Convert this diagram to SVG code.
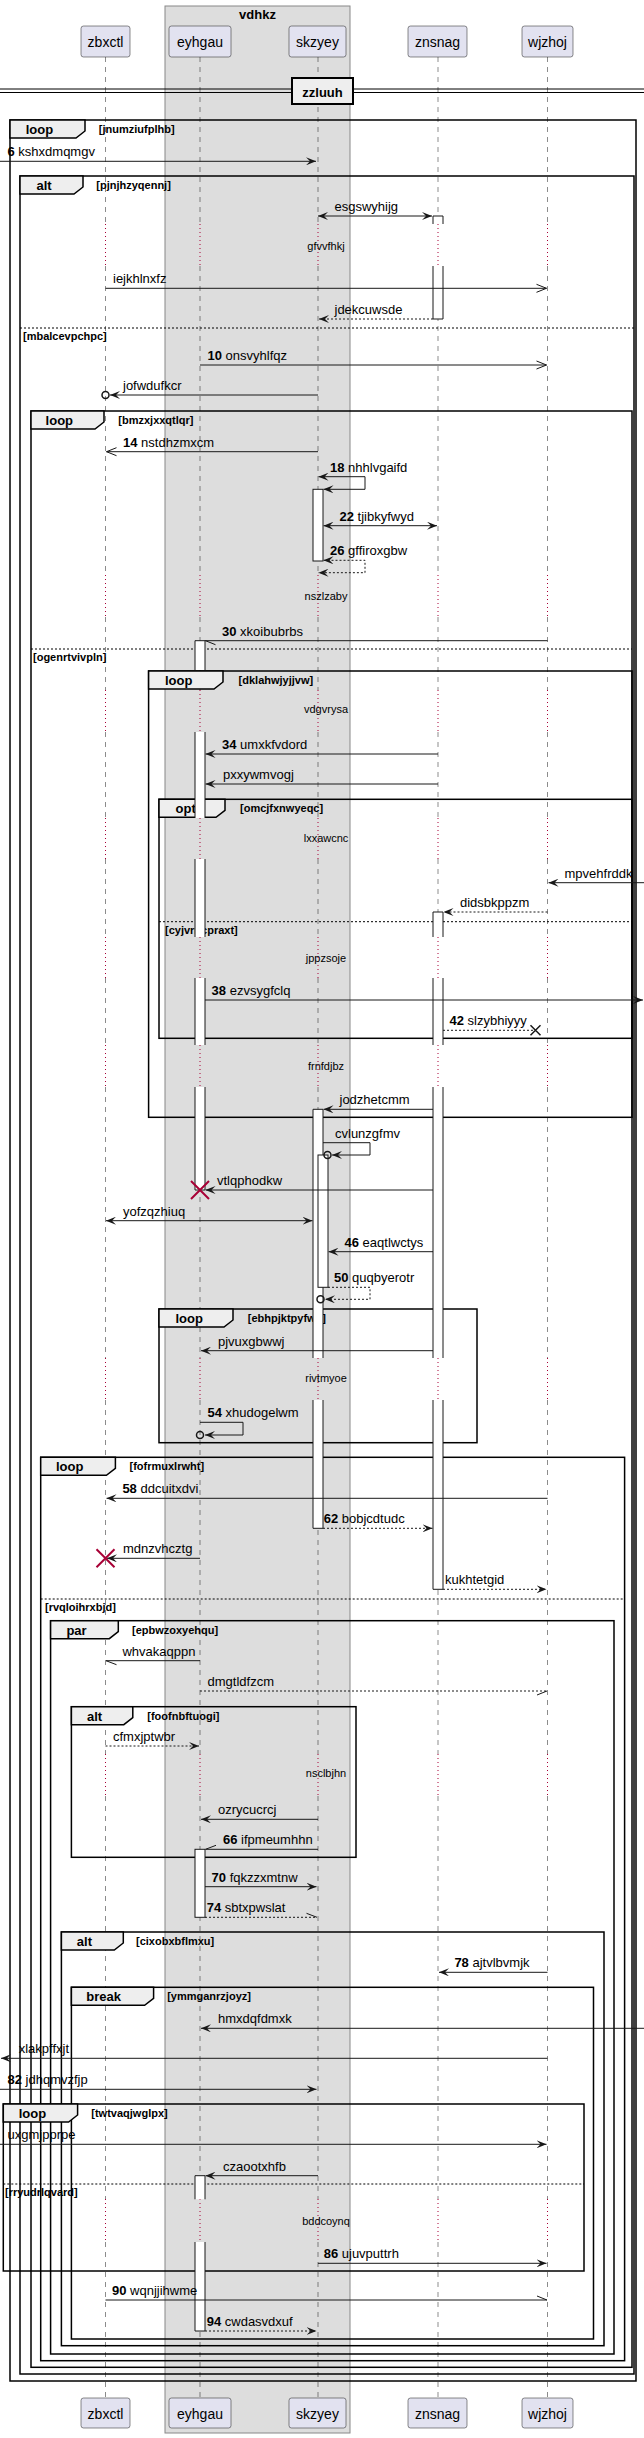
<svg xmlns="http://www.w3.org/2000/svg" width="644" height="2438" viewBox="0 0 644 2438">
<style>
text{font-family:"Liberation Sans",Arial,sans-serif;fill:#000}
.pt{font-size:14px;text-anchor:middle}
.m{font-size:13px}
.b{font-weight:bold}
.dl{font-size:11px;text-anchor:middle}
.fl{font-size:13px;font-weight:bold}
.fc{font-size:11px;font-weight:bold}
.pb{fill:#E2E2F0;stroke:#181818;stroke-width:0.5}
.ll{fill:none;stroke:#181818;stroke-width:0.5;stroke-dasharray:5,5}
.dt{fill:none;stroke:#A80036;stroke-width:1;stroke-dasharray:1,3}
.fr{fill:none;stroke:#000;stroke-width:1.5}
.tab{fill:#EEEEEE;stroke:#000;stroke-width:1.5}
.sep{fill:none;stroke:#000;stroke-width:1;stroke-dasharray:2,2}
.af{fill:#fff;stroke:none}
.ao{fill:none;stroke:#181818;stroke-width:1}
.ms{fill:none;stroke:#181818;stroke-width:1}
.md{fill:none;stroke:#181818;stroke-width:1;stroke-dasharray:2,2}
.fa{marker-end:url(#af)}
.oa{marker-end:url(#ao)}
.ba{marker-start:url(#af);marker-end:url(#af)}
.rx{stroke:#A80036;stroke-width:2}
</style>
<defs>
<marker id="af" viewBox="0 0 10 8" refX="10" refY="4" markerWidth="10" markerHeight="8" markerUnits="userSpaceOnUse" orient="auto-start-reverse"><path d="M0,0 L10,4 L0,8 L4,4 Z" fill="#181818"/></marker>
<marker id="ao" viewBox="-1 -1 12 10" refX="10" refY="4" markerWidth="12" markerHeight="10" markerUnits="userSpaceOnUse" orient="auto-start-reverse"><path d="M0,0 L10,4 L0,8" fill="none" stroke="#181818" stroke-width="1"/></marker>
</defs>

<g id="box-vdhkz">
<rect x="165" y="6" width="185" height="2427" fill="#DDDDDD" stroke="#888888" stroke-width="1"/>
<text x="257.5" y="18.5" class="fl" text-anchor="middle">vdhkz</text>
</g>

<g id="lifelines">
<path class="ll" d="M105.5,57V224M105.5,266V575M105.5,617V690M105.5,732V818M105.5,859V937M105.5,978V1045M105.5,1087V1358M105.5,1400V1754M105.5,1796V2199M105.5,2242V2398"/>
<path class="ll" d="M200,57V224M200,266V575M200,617V690M200,732V818M200,859V937M200,978V1045M200,1087V1358M200,1400V1754M200,1796V2199M200,2242V2398"/>
<path class="ll" d="M318,57V224M318,266V575M318,617V690M318,732V818M318,859V937M318,978V1045M318,1087V1358M318,1400V1754M318,1796V2199M318,2242V2398"/>
<path class="ll" d="M438,57V224M438,266V575M438,617V690M438,732V818M438,859V937M438,978V1045M438,1087V1358M438,1400V1754M438,1796V2199M438,2242V2398"/>
<path class="ll" d="M547.5,57V224M547.5,266V575M547.5,617V690M547.5,732V818M547.5,859V937M547.5,978V1045M547.5,1087V1358M547.5,1400V1754M547.5,1796V2199M547.5,2242V2398"/>
<path class="dt" d="M105.5,224V266M105.5,575V617M105.5,690V732M105.5,818V859M105.5,937V978M105.5,1045V1087M105.5,1358V1400M105.5,1754V1796M105.5,2199V2242"/>
<path class="dt" d="M200,224V266M200,575V617M200,690V732M200,818V859M200,937V978M200,1045V1087M200,1358V1400M200,1754V1796M200,2199V2242"/>
<path class="dt" d="M318,224V266M318,575V617M318,690V732M318,818V859M318,937V978M318,1045V1087M318,1358V1400M318,1754V1796M318,2199V2242"/>
<path class="dt" d="M438,224V266M438,575V617M438,690V732M438,818V859M438,937V978M438,1045V1087M438,1358V1400M438,1754V1796M438,2199V2242"/>
<path class="dt" d="M547.5,224V266M547.5,575V617M547.5,690V732M547.5,818V859M547.5,937V978M547.5,1045V1087M547.5,1358V1400M547.5,1754V1796M547.5,2199V2242"/>
</g>

<g id="p-zbxctl">
<rect class="pb" x="81" y="26" width="49" height="31" rx="2.5"/><text class="pt" x="105.5" y="47">zbxctl</text>
<rect class="pb" x="81" y="2398" width="49" height="30" rx="2.5"/><text class="pt" x="105.5" y="2419">zbxctl</text>
</g>
<g id="p-eyhgau">
<rect class="pb" x="169" y="26" width="62" height="31" rx="2.5"/><text class="pt" x="200" y="47">eyhgau</text>
<rect class="pb" x="169" y="2398" width="62" height="30" rx="2.5"/><text class="pt" x="200" y="2419">eyhgau</text>
</g>
<g id="p-skzyey">
<rect class="pb" x="289" y="26" width="57" height="31" rx="2.5"/><text class="pt" x="317.5" y="47">skzyey</text>
<rect class="pb" x="289" y="2398" width="57" height="30" rx="2.5"/><text class="pt" x="317.5" y="2419">skzyey</text>
</g>
<g id="p-znsnag">
<rect class="pb" x="408" y="26" width="59" height="31" rx="2.5"/><text class="pt" x="437.5" y="47">znsnag</text>
<rect class="pb" x="408" y="2398" width="59" height="30" rx="2.5"/><text class="pt" x="437.5" y="2419">znsnag</text>
</g>
<g id="p-wjzhoj">
<rect class="pb" x="522" y="26" width="51" height="31" rx="2.5"/><text class="pt" x="547.5" y="47">wjzhoj</text>
<rect class="pb" x="522" y="2398" width="51" height="30" rx="2.5"/><text class="pt" x="547.5" y="2419">wjzhoj</text>
</g>

<g id="divider-zzluuh">
<line x1="0" y1="89" x2="644" y2="89" stroke="#000" stroke-width="1"/>
<line x1="0" y1="92.5" x2="644" y2="92.5" stroke="#000" stroke-width="1"/>
<rect x="292" y="78" width="61" height="26" fill="#EEEEEE" stroke="#000" stroke-width="2"/>
<text x="322.5" y="96.5" class="fl" text-anchor="middle">zzluuh</text>
</g>

<g id="frames">
<rect class="fr" x="10" y="120" width="626" height="2261"/>
<path class="tab" d="M10,120H85V131L76,138H10Z"/><text class="fl" x="25.7" y="134">loop</text><text class="fc" x="98.8" y="133">[jnumziufplhb]</text>

<rect class="fr" x="20" y="176" width="614" height="2198"/>
<path class="tab" d="M20,176H83V187L74,194H20Z"/><text class="fl" x="36.5" y="190">alt</text><text class="fc" x="96.3" y="189">[pjnjhzyqennj]</text>
<line class="sep" x1="20" y1="328" x2="634" y2="328"/><text class="fc" x="23" y="340">[mbalcevpchpc]</text>

<rect class="fr" x="31" y="411" width="601" height="1956.3"/>
<path class="tab" d="M31,411H104V422L95,429H31Z"/><text class="fl" x="45.6" y="425">loop</text><text class="fc" x="118.3" y="424">[bmzxjxxqtlqr]</text>
<line class="sep" x1="31" y1="649" x2="632" y2="649"/><text class="fc" x="33" y="661">[ogenrtvivpln]</text>

<rect class="fr" x="148.6" y="671" width="483.4" height="446.3"/>
<path class="tab" d="M148.6,671H223V682L214,689H148.6Z"/><text class="fl" x="165" y="685">loop</text><text class="fc" x="238.6" y="684">[dklahwjyjjvw]</text>

<rect class="fr" x="159" y="799.3" width="473" height="239"/>
<path class="tab" d="M159,799.3H225V810.3L216,817.3H159Z"/><text class="fl" x="175.5" y="813.3">opt</text><text class="fc" x="240" y="812.3">[omcjfxnwyeqc]</text>
<line class="sep" x1="159" y1="921.7" x2="632" y2="921.7"/><text class="fc" x="165" y="933.7">[cyjvrncpraxt]</text>

<rect class="fr" x="159" y="1309" width="318" height="133.7"/>
<path class="tab" d="M159,1309H233V1320L224,1327H159Z"/><text class="fl" x="175.5" y="1323">loop</text><text class="fc" x="247.8" y="1322">[ebhpjktpyfwb]</text>

<rect class="fr" x="40.7" y="1457.3" width="583.9" height="903.4"/>
<path class="tab" d="M40.7,1457.3H115.4V1468.3L106.4,1475.3H40.7Z"/><text class="fl" x="56" y="1471.3">loop</text><text class="fc" x="129.5" y="1470.3">[fofrmuxlrwht]</text>
<line class="sep" x1="40.7" y1="1599" x2="624.6" y2="1599"/><text class="fc" x="45" y="1611">[rvqloihrxbjd]</text>

<rect class="fr" x="50.6" y="1620.7" width="563.4" height="733.3"/>
<path class="tab" d="M50.6,1620.7H118.3V1631.7L109.3,1638.7H50.6Z"/><text class="fl" x="66.4" y="1634.7">par</text><text class="fc" x="132" y="1633.7">[epbwzoxyehqu]</text>

<rect class="fr" x="71.4" y="1706.7" width="284.6" height="150.6"/>
<path class="tab" d="M71.4,1706.7H132.8V1717.7L123.8,1724.7H71.4Z"/><text class="fl" x="87" y="1720.7">alt</text><text class="fc" x="147.3" y="1719.7">[foofnbftuogi]</text>

<rect class="fr" x="61.4" y="1932" width="542.6" height="413.7"/>
<path class="tab" d="M61.4,1932H123.3V1943L114.3,1950H61.4Z"/><text class="fl" x="76.8" y="1946">alt</text><text class="fc" x="136" y="1945">[cixobxbflmxu]</text>

<rect class="fr" x="71.4" y="1987.3" width="522.1" height="351.7"/>
<path class="tab" d="M71.4,1987.3H153.6V1998.3L144.6,2005.3H71.4Z"/><text class="fl" x="86.3" y="2001.3">break</text><text class="fc" x="167.2" y="2000.3">[ymmganrzjoyz]</text>

<rect class="fr" x="3.3" y="2104" width="580.7" height="167"/>
<path class="tab" d="M3.3,2104H77.6V2115L68.6,2122H3.3Z"/><text class="fl" x="18.7" y="2118">loop</text><text class="fc" x="91.3" y="2117">[twtvaqjwglpx]</text>
<line class="sep" x1="3.3" y1="2184" x2="584" y2="2184"/><text class="fc" x="5" y="2196">[rryudrlqvard]</text>
</g>

<g id="activations">
<rect class="af" x="433" y="216" width="10" height="8"/><rect class="af" x="433" y="266" width="10" height="53"/>
<path class="ms" d="M433,224V216H443V224M433,266V319H443V266"/>
<rect x="313" y="489.3" width="10" height="71.7" fill="#fff" stroke="#181818"/>
<rect class="af" x="195" y="640.7" width="10" height="29.3"/><rect class="af" x="195" y="732" width="10" height="86"/><rect class="af" x="195" y="859" width="10" height="78"/><rect class="af" x="195" y="978" width="10" height="67"/><rect class="af" x="195" y="1087" width="10" height="103"/>
<path class="ms" d="M195,670V640.7H205V670M195,732V818M205,732V818M195,859V937M205,859V937M195,978V1045M205,978V1045M195,1087V1190H205V1087"/>
<rect class="af" x="433" y="912" width="10" height="25"/><rect class="af" x="433" y="978" width="10" height="67"/><rect class="af" x="433" y="1087" width="10" height="271"/><rect class="af" x="433" y="1400" width="10" height="189.3"/>
<path class="ms" d="M433,937V912H443V937M433,978V1045M443,978V1045M433,1087V1358M443,1087V1358M433,1400V1589.3H443V1400"/>
<rect class="af" x="313" y="1109.3" width="10" height="248.7"/><rect class="af" x="313" y="1400" width="10" height="128.3"/>
<path class="ms" d="M313,1358V1109.3H323V1358M313,1400V1528.3H323V1400"/>
<rect x="318" y="1155" width="10" height="132.3" fill="#fff" stroke="#181818"/>
<rect x="195" y="1849.3" width="10" height="68" fill="#fff" stroke="#181818"/>
<rect class="af" x="195" y="2175.7" width="10" height="23.6"/><rect class="af" x="195" y="2242" width="10" height="89"/>
<path class="ms" d="M195,2199.3V2175.7H205V2199.3M195,2242V2331H205V2242"/>
</g>

<g id="connectors">
<line class="ms fa" x1="0" y1="161.3" x2="316" y2="161.3"/>
<line class="ms ba" x1="318" y1="216" x2="432" y2="216"/>
<line class="ms oa" x1="105.5" y1="288.3" x2="546.5" y2="288.3"/>
<line class="md fa" x1="433" y1="319" x2="319" y2="319"/>
<line class="ms oa" x1="200" y1="365" x2="546.5" y2="365"/>
<line class="ms fa" x1="318" y1="395" x2="110" y2="395"/><circle cx="105.5" cy="395" r="3.5" fill="none" stroke="#181818" stroke-width="1.5"/>
<line class="ms oa" x1="318" y1="451.7" x2="106.5" y2="451.7"/>
<path class="ms ba" d="M318.5,476.7H365V489.3H323.5"/>
<line class="ms ba" x1="323.5" y1="525.7" x2="437" y2="525.7"/>
<path class="md ba" d="M323.5,560.3H365V572.7H318.5"/>
<line class="ms" x1="547.5" y1="640.7" x2="205" y2="640.7"/><line class="ms" x1="205.5" y1="640.7" x2="215.5" y2="644.7"/>
<line class="ms fa" x1="438" y1="754" x2="205.5" y2="754"/>
<line class="ms fa" x1="438" y1="784" x2="205.5" y2="784"/>
<line class="ms fa" x1="644" y1="882.7" x2="548.5" y2="882.7"/>
<line class="md fa" x1="547.5" y1="912" x2="443.5" y2="912"/>
<line class="ms fa" x1="205" y1="1000" x2="643" y2="1000"/>
<line class="md" x1="443" y1="1030.3" x2="535.5" y2="1030.3"/><path d="M530.5,1025.3L540.5,1035.3M540.5,1025.3L530.5,1035.3" stroke="#181818" stroke-width="1.5"/>
<line class="ms fa" x1="433" y1="1109.3" x2="323.5" y2="1109.3"/>
<path class="ms fa" d="M323,1142.7H370V1155H332"/><circle cx="327.5" cy="1155" r="3.5" fill="none" stroke="#181818" stroke-width="1.5"/>
<line class="ms fa" x1="433" y1="1190" x2="205.5" y2="1190"/>
<path class="rx" d="M191,1181L209,1199M209,1181L191,1199"/>
<line class="ms ba" x1="106" y1="1220.7" x2="312.5" y2="1220.7"/>
<line class="ms fa" x1="433" y1="1251.7" x2="328.5" y2="1251.7"/>
<path class="md fa" d="M328,1287.3H370V1299.3H325"/><circle cx="320.5" cy="1299.3" r="3.5" fill="none" stroke="#181818" stroke-width="1.5"/>
<line class="ms fa" x1="433" y1="1350.7" x2="201" y2="1350.7"/>
<path class="ms fa" d="M200,1422.3H243V1435H205"/><circle cx="200" cy="1435" r="3.5" fill="none" stroke="#181818" stroke-width="1.5"/>
<line class="ms fa" x1="547.5" y1="1498.3" x2="106.5" y2="1498.3"/>
<line class="md fa" x1="323" y1="1528.3" x2="432.5" y2="1528.3"/>
<line class="ms fa" x1="200" y1="1558.3" x2="107" y2="1558.3"/>
<path class="rx" d="M96.5,1549.3L114.5,1567.3M114.5,1549.3L96.5,1567.3"/>
<line class="md fa" x1="443" y1="1589.3" x2="546.5" y2="1589.3"/>
<line class="ms" x1="200" y1="1660.7" x2="106" y2="1660.7"/><line class="ms" x1="106" y1="1660.7" x2="116.5" y2="1664.7"/>
<line class="md" x1="200" y1="1691" x2="547" y2="1691"/><line class="ms" x1="547" y1="1691" x2="537" y2="1695"/>
<line class="md fa" x1="105.5" y1="1746" x2="199" y2="1746"/>
<line class="ms fa" x1="318" y1="1819.3" x2="201" y2="1819.3"/>
<line class="ms" x1="318" y1="1849.3" x2="205.5" y2="1849.3"/><line class="ms" x1="205.5" y1="1849.3" x2="216" y2="1845.3"/>
<line class="ms fa" x1="205" y1="1886.7" x2="316.5" y2="1886.7"/>
<line class="md" x1="205" y1="1917.3" x2="317" y2="1917.3"/><line class="ms" x1="317" y1="1917.3" x2="306.5" y2="1913.3"/>
<line class="ms fa" x1="547.5" y1="1972.3" x2="439" y2="1972.3"/>
<line class="ms fa" x1="644" y1="2028.3" x2="201" y2="2028.3"/>
<line class="ms fa" x1="547.5" y1="2058.3" x2="1" y2="2058.3"/>
<line class="ms fa" x1="0" y1="2089.3" x2="316.5" y2="2089.3"/>
<line class="ms fa" x1="0" y1="2144.3" x2="546.5" y2="2144.3"/>
<line class="ms fa" x1="318" y1="2175.7" x2="205.5" y2="2175.7"/>
<line class="ms fa" x1="318" y1="2263.3" x2="546.5" y2="2263.3"/>
<line class="ms" x1="105.5" y1="2300" x2="547" y2="2300"/><line class="ms" x1="547" y1="2300" x2="537" y2="2296"/>
<line class="md fa" x1="205" y1="2331" x2="316.5" y2="2331"/>
</g>

<g id="delays">
<text class="dl" x="326" y="250">gfvvfhkj</text>
<text class="dl" x="326" y="600">nszlzaby</text>
<text class="dl" x="326" y="713">vdgvrysa</text>
<text class="dl" x="326" y="841.7">lxxawcnc</text>
<text class="dl" x="326" y="961.7">jppzsoje</text>
<text class="dl" x="326" y="1070">frnfdjbz</text>
<text class="dl" x="326" y="1381.7">rivtmyoe</text>
<text class="dl" x="326" y="1776.7">nsclbjhn</text>
<text class="dl" x="326" y="2225">bddcoynq</text>
</g>

<g id="labels">
<text class="m" x="7.5" y="156.3"><tspan class="b">6</tspan> kshxdmqmgv</text>
<text class="m" x="334.5" y="211">esgswyhijg</text>
<text class="m" x="113" y="283.3">iejkhlnxfz</text>
<text class="m" x="334.5" y="314">jdekcuwsde</text>
<text class="m" x="207.5" y="360"><tspan class="b">10</tspan> onsvyhlfqz</text>
<text class="m" x="123" y="390">jofwdufkcr</text>
<text class="m" x="123" y="446.7"><tspan class="b">14</tspan> nstdhzmxcm</text>
<text class="m" x="330" y="471.7"><tspan class="b">18</tspan> nhhlvgaifd</text>
<text class="m" x="339.5" y="520.7"><tspan class="b">22</tspan> tjibkyfwyd</text>
<text class="m" x="330" y="555.3"><tspan class="b">26</tspan> gffiroxgbw</text>
<text class="m" x="222" y="635.7"><tspan class="b">30</tspan> xkoibubrbs</text>
<text class="m" x="222" y="749"><tspan class="b">34</tspan> umxkfvdord</text>
<text class="m" x="223" y="779">pxxywmvogj</text>
<text class="m" x="564.5" y="877.7">mpvehfrddk</text>
<text class="m" x="460" y="907">didsbkppzm</text>
<text class="m" x="211.6" y="995"><tspan class="b">38</tspan> ezvsygfclq</text>
<text class="m" x="449.5" y="1025"><tspan class="b">42</tspan> slzybhiyyy</text>
<text class="m" x="339.5" y="1104.3">jodzhetcmm</text>
<text class="m" x="335" y="1137.7">cvlunzgfmv</text>
<text class="m" x="217" y="1185">vtlqphodkw</text>
<text class="m" x="123" y="1215.7">yofzqzhiuq</text>
<text class="m" x="344.5" y="1246.7"><tspan class="b">46</tspan> eaqtlwctys</text>
<text class="m" x="334" y="1282.3"><tspan class="b">50</tspan> quqbyerotr</text>
<text class="m" x="218" y="1345.7">pjvuxgbwwj</text>
<text class="m" x="207.5" y="1417.3"><tspan class="b">54</tspan> xhudogelwm</text>
<text class="m" x="122.4" y="1493.3"><tspan class="b">58</tspan> ddcuitxdvi</text>
<text class="m" x="323.7" y="1523.3"><tspan class="b">62</tspan> bobjcdtudc</text>
<text class="m" x="123" y="1553.3">mdnzvhcztg</text>
<text class="m" x="445" y="1584.3">kukhtetgid</text>
<text class="m" x="122.4" y="1655.7">whvakaqppn</text>
<text class="m" x="207.5" y="1686">dmgtldfzcm</text>
<text class="m" x="113" y="1741">cfmxjptwbr</text>
<text class="m" x="218" y="1814.3">ozrycucrcj</text>
<text class="m" x="223" y="1844.3"><tspan class="b">66</tspan> ifpmeumhhn</text>
<text class="m" x="211.6" y="1881.7"><tspan class="b">70</tspan> fqkzzxmtnw</text>
<text class="m" x="206.7" y="1912.3"><tspan class="b">74</tspan> sbtxpwslat</text>
<text class="m" x="454.4" y="1967.3"><tspan class="b">78</tspan> ajtvlbvmjk</text>
<text class="m" x="218" y="2023.3">hmxdqfdmxk</text>
<text class="m" x="18.7" y="2053.3">xlakpffxjt</text>
<text class="m" x="7.5" y="2084.3"><tspan class="b">82</tspan> jdhqmvzfjp</text>
<text class="m" x="7.5" y="2139.3">uxgmjpprpe</text>
<text class="m" x="223" y="2170.7">czaootxhfb</text>
<text class="m" x="323.7" y="2258.3"><tspan class="b">86</tspan> ujuvputtrh</text>
<text class="m" x="112" y="2295"><tspan class="b">90</tspan> wqnjjihwme</text>
<text class="m" x="206.7" y="2326"><tspan class="b">94</tspan> cwdasvdxuf</text>
</g>
</svg>
